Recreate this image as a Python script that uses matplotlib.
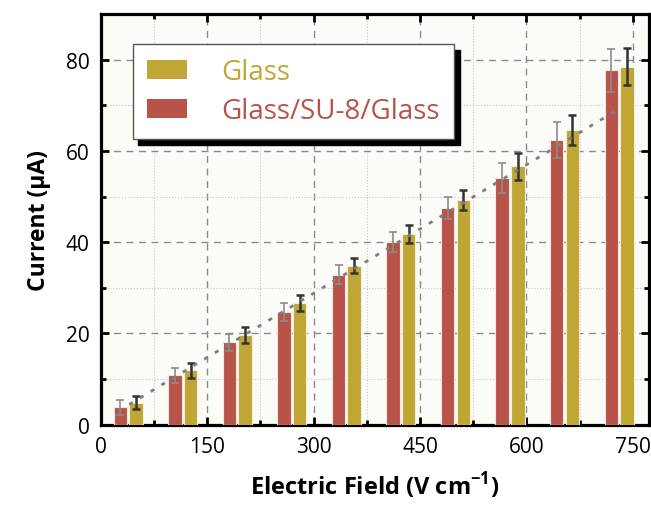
import numpy as np
import matplotlib
matplotlib.use('Agg')
import matplotlib.pyplot as plt
from matplotlib.patches import Patch
from matplotlib.ticker import MultipleLocator

plt.rcParams['font.family'] = ['Open Sans', 'DejaVu Sans']
plt.rcParams['mathtext.fontset'] = 'custom'
plt.rcParams['mathtext.rm'] = 'Open Sans'
plt.rcParams['mathtext.bf'] = 'Open Sans:bold'

# electric field of each group (V cm^-1)
field = [38.5, 115.4, 192.3, 269.2, 346.2, 423.1, 500.0, 576.9, 653.8, 730.8]

sandwich = [3.8, 10.8, 18.0, 24.7, 32.9, 40.0, 47.5, 54.0, 62.4, 77.7]
sandwich_err = [1.6, 1.7, 1.9, 1.95, 2.1, 2.15, 2.5, 3.3, 4.0, 4.7]
glass = [4.8, 11.9, 19.7, 26.6, 34.8, 41.8, 49.3, 56.6, 64.5, 78.5]
glass_err = [1.5, 1.65, 1.75, 1.8, 1.65, 2.0, 2.2, 3.0, 3.3, 4.0]

trend_x = [40, 725]
trend_y = [4.4, 68.7]

red = '#B8534A'
gold = '#BFA635'

fig = plt.figure(figsize=(6.51, 5.06), dpi=100)
ax = fig.add_axes([0.155, 0.159, 0.842, 0.811])
ax.set_facecolor('#FBFBF7')

x = np.array(field)
w = 19
ax.bar(x - 11, sandwich, w, color=red, edgecolor='#F4E6E0', linewidth=0.8, zorder=3)
ax.bar(x + 11, glass, w, color=gold, edgecolor='#F4EEDA', linewidth=0.8, zorder=3)
ax.errorbar(x - 11, sandwich, yerr=sandwich_err, fmt='none', ecolor='#8C8C8C',
            elinewidth=1.2, capsize=3, capthick=1.2, zorder=4)
ax.errorbar(x + 11, glass, yerr=glass_err, fmt='none', ecolor='#333333',
            elinewidth=1.8, capsize=3, capthick=1.8, zorder=4)
ax.plot(trend_x, trend_y, linestyle=(0, (1.5, 3)), color='#7F7F7F', lw=2, zorder=5)

ax.set_xlim(0, 773)
ax.set_ylim(0, 90)
ax.xaxis.set_major_locator(MultipleLocator(150))
ax.xaxis.set_minor_locator(MultipleLocator(75))
ax.yaxis.set_major_locator(MultipleLocator(20))
ax.yaxis.set_minor_locator(MultipleLocator(10))
ax.grid(which='major', linestyle=(0, (5, 4)), color='#8A8A8A', lw=1, zorder=0)
ax.grid(which='minor', linestyle=':', color='#C8C8C8', lw=0.8, zorder=0)

ax.tick_params(which='both', direction='in', top=True, right=True, width=2, colors='black')
ax.tick_params(which='major', length=6, labelsize=15, pad=8)
ax.tick_params(which='minor', length=3.5)
for s in ax.spines.values():
    s.set_linewidth(2.3)

ax.set_xlabel('Electric Field (V cm$^{\\mathbf{-1}}$)', fontsize=17, fontweight='bold', labelpad=9)
ax.set_ylabel('Current (\u00b5A)', fontsize=16.5, fontweight='bold', labelpad=11)

handles = [Patch(facecolor=gold, edgecolor='none'), Patch(facecolor=red, edgecolor='none')]
leg = ax.legend(handles, ['Glass', 'Glass/SU-8/Glass'], loc='upper left',
                bbox_to_anchor=(0.058, 0.927), borderaxespad=0, fontsize=20,
                labelcolor=[gold, red], handlelength=1.45, handleheight=0.65,
                handletextpad=1.25, borderpad=0.5, labelspacing=0.4,
                fancybox=False, framealpha=1, edgecolor='#555555',
                shadow={'color': 'black', 'alpha': 1, 'ox': 4, 'oy': -4})
leg.get_frame().set_linewidth(1)
leg.set_zorder(10)

fig.savefig('out.png', dpi=100)
